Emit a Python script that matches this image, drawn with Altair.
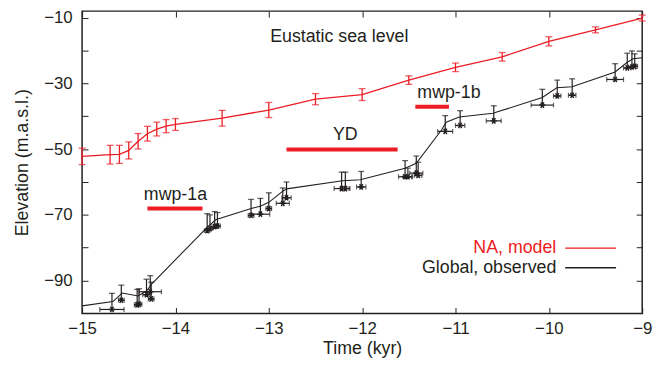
import altair as alt
import pandas as pd

RED = "#ec1c24"
BLACK = "#231f20"
FONT = "Liberation Sans"

# ---- NA, model (red) ----
red_x = [-15.0, -14.7, -14.6, -14.5, -14.4, -14.3, -14.2, -14.1, -14.0, -13.5,
         -13.0, -12.5, -12.0, -11.5, -11.0, -10.5, -10.0, -9.5, -9.0]
red_y = [-52.2, -51.7, -51.6, -50.4, -47.6, -45.3, -43.9, -43.0, -42.5, -40.6,
         -38.1, -34.8, -33.4, -29.0, -25.1, -21.9, -17.2, -13.7, -10.1]
red_err = [2.5, 2.85, 2.75, 2.6, 2.35, 2.25, 2.1, 2.0, 1.8, 2.4,
           2.3, 1.7, 1.8, 1.3, 1.3, 1.3, 1.4, 0.9, 0.9]

# ---- Global, observed (black) : individual dated samples ----
obs_x = [-14.68, -14.58, -14.41, -14.39, -14.31, -14.27, -14.26, -13.66, -13.63, -13.58,
         -13.55, -13.19, -13.09, -13.00, -12.85, -12.81, -12.22, -12.18, -12.01, -11.54,
         -11.51, -11.42, -11.40, -11.11, -10.95, -10.59, -10.07, -9.91, -9.75, -9.29,
         -9.16, -9.11, -9.08]
obs_y = [-98.8, -96.0, -97.4, -97.2, -94.3, -93.4, -95.6, -74.8, -74.2, -73.6,
         -73.4, -70.2, -69.8, -68.1, -66.5, -64.8, -62.0, -62.0, -61.5, -58.4,
         -58.4, -57.3, -58.0, -44.6, -42.8, -41.4, -36.6, -33.8, -33.6, -28.8,
         -25.3, -25.0, -24.8]
obs_xerr = [0.13, 0.03, 0.03, 0.03, 0.04, 0.12, 0.03, 0.03, 0.03, 0.03,
            0.03, 0.03, 0.10, 0.03, 0.07, 0.05, 0.08, 0.05, 0.05, 0.07,
            0.05, 0.07, 0.04, 0.08, 0.05, 0.08, 0.12, 0.04, 0.04, 0.09,
            0.04, 0.04, 0.03]
obs_top = [-93.9, -91.4, -92.7, -92.5, -89.6, -88.5, -90.5, -69.6, -70.0, -69.0,
           -69.3, -65.3, -65.0, -63.3, -61.8, -60.0, -57.0, -57.0, -56.8, -53.5,
           -55.8, -52.1, -54.0, -39.8, -38.3, -36.8, -31.8, -29.0, -28.6, -24.0,
           -20.8, -20.1, -21.0]

# ---- Global, observed (black) : curve ----
line_x = [-15.0, -14.67, -14.57, -14.40, -14.31, -14.25, -13.66, -13.57, -13.18, -13.09,
          -13.0, -12.85, -12.81, -12.21, -12.02, -11.54, -11.42, -11.15, -11.10, -10.96,
          -10.60, -10.07, -9.915, -9.75, -9.29, -9.17, -9.10, -9.0]
line_y = [-97.7, -96.4, -93.8, -94.7, -93.2, -90.9, -73.8, -71.5, -68.0, -67.4,
          -66.2, -62.8, -62.1, -59.6, -59.3, -55.8, -54.3, -44.2, -41.8, -40.2,
          -39.1, -34.3, -31.3, -31.0, -26.5, -23.8, -22.5, -22.2]

# ---- events ----
event_labels = ["mwp-1a", "YD", "mwp-1b"]
event_start = [-14.30, -12.81, -11.43]
event_end = [-13.71, -11.62, -11.07]
event_y = [-68.1, -50.1, -37.1]
event_label_x = [-14.0, -12.18, -11.07]
event_label_y = [-65.4, -47.1, -34.3]

panel_title = ["Eustatic sea level"]
panel_title_x = [-12.245]
panel_title_y = [-17.5]

legend_labels = ["NA, model", "Global, observed"]
legend_colors = [RED, BLACK]
legend_y = [-80.1, -86.1]
legend_text_x = [-9.92, -9.92]
legend_line_start = [-9.825, -9.825]
legend_line_end = [-9.28, -9.28]

x_ticks = [-15, -14, -13, -12, -11, -10, -9]
y_ticks = [-90, -80, -70, -60, -50, -40, -30, -20, -10]

red_df = pd.DataFrame({"x": red_x, "y": red_y,
                       "lo": [a - e for a, e in zip(red_y, red_err)],
                       "hi": [a + e for a, e in zip(red_y, red_err)]})
obs_df = pd.DataFrame({"x": obs_x, "y": obs_y, "top": obs_top,
                       "xlo": [a - e for a, e in zip(obs_x, obs_xerr)],
                       "xhi": [a + e for a, e in zip(obs_x, obs_xerr)]})
line_df = pd.DataFrame({"x": line_x, "y": line_y})
ev_df = pd.DataFrame({"label": event_labels, "x1": event_start, "x2": event_end,
                      "y": event_y, "lx": event_label_x, "ly": event_label_y})
title_df = pd.DataFrame({"t": panel_title, "x": panel_title_x, "y": panel_title_y})
leg_df = pd.DataFrame({"label": legend_labels, "color": legend_colors, "y": legend_y,
                       "tx": legend_text_x, "x1": legend_line_start, "x2": legend_line_end})

xs = alt.Scale(domain=[-15, -9], nice=False, zero=False)
ys = alt.Scale(domain=[-100, -8], nice=False, zero=False)

common_axis = dict(tickSize=6, offset=-6, domain=False, grid=False,
                   tickColor=BLACK, tickWidth=1, labelFlush=False)

ax_bottom = alt.Axis(orient="bottom", values=x_ticks, labelPadding=7,
                     labelExpr="datum.value < 0 ? '\u2212' + abs(datum.value) : datum.label",
                     labelFontSize=17, labelFont=FONT, labelColor=BLACK,
                     title="Time (kyr)", titleFont=FONT, titleFontSize=18,
                     titleFontWeight="normal", titleColor=BLACK, titlePadding=4,
                     **common_axis)
ax_left = alt.Axis(orient="left", values=y_ticks, labelPadding=10,
                   labelExpr="abs(datum.value) % 20 == 10 ? '\u2212' + abs(datum.value) : ''",
                   labelFontSize=17, labelFont=FONT, labelColor=BLACK,
                   title="Elevation (m.a.s.l.)", titleFont=FONT, titleFontSize=18,
                   titleFontWeight="normal", titleColor=BLACK, titlePadding=12,
                   **common_axis)
ax_top = alt.Axis(orient="top", values=x_ticks, labels=False, title=None, **common_axis)
ax_right = alt.Axis(orient="right", values=y_ticks, labels=False, title=None, **common_axis)


def X(f, axis=None):
    return alt.X(f, type="quantitative", scale=xs, axis=axis)


def Y(f, axis=None):
    return alt.Y(f, type="quantitative", scale=ys, axis=axis)


red_line = alt.Chart(red_df).mark_line(color=RED, strokeWidth=1.3).encode(
    x=X("x", ax_bottom), y=Y("y", ax_left))
red_bars = alt.Chart(red_df).mark_rule(color=RED, strokeWidth=1.3).encode(
    x=X("x", ax_top), y=Y("lo", ax_right), y2="hi")
red_cap_lo = alt.Chart(red_df).mark_tick(color=RED, orient="horizontal", size=7, thickness=1.3).encode(
    x=X("x"), y=Y("lo"))
red_cap_hi = alt.Chart(red_df).mark_tick(color=RED, orient="horizontal", size=7, thickness=1.3).encode(
    x=X("x"), y=Y("hi"))

blk_line = alt.Chart(line_df).mark_line(color=BLACK, strokeWidth=1.1).encode(
    x=X("x"), y=Y("y"))
obs_v = alt.Chart(obs_df).mark_rule(color=BLACK, strokeWidth=1.2).encode(
    x=X("x"), y=Y("y"), y2="top")
obs_vcap = alt.Chart(obs_df).mark_tick(color=BLACK, orient="horizontal", size=6, thickness=1.3).encode(
    x=X("x"), y=Y("top"))
obs_h = alt.Chart(obs_df).mark_rule(color=BLACK, strokeWidth=1.2).encode(
    x=X("xlo"), x2="xhi", y=Y("y"))
obs_hcap_lo = alt.Chart(obs_df).mark_tick(color=BLACK, orient="vertical", size=5, thickness=1.2).encode(
    x=X("xlo"), y=Y("y"))
obs_hcap_hi = alt.Chart(obs_df).mark_tick(color=BLACK, orient="vertical", size=5, thickness=1.2).encode(
    x=X("xhi"), y=Y("y"))
STAR = "M-1,0L1,0M-0.5,-0.87L0.5,0.87M-0.5,0.87L0.5,-0.87"
obs_pts = alt.Chart(obs_df).mark_point(shape=STAR, filled=False, size=40, strokeWidth=1.5,
                                       color=BLACK, opacity=1).encode(x=X("x"), y=Y("y"))

ev_bars = alt.Chart(ev_df).mark_rule(color=RED, strokeWidth=4).encode(
    x=X("x1"), x2="x2", y=Y("y"))
ev_text = alt.Chart(ev_df).mark_text(font=FONT, fontSize=18, color=BLACK,
                                     baseline="alphabetic", align="center").encode(
    x=X("lx"), y=Y("ly"), text="label:N")
title_text = alt.Chart(title_df).mark_text(font=FONT, fontSize=18, color=BLACK,
                                           baseline="alphabetic", align="center").encode(
    x=X("x"), y=Y("y"), text="t:N")
leg_text = alt.Chart(leg_df).mark_text(font=FONT, fontSize=18, baseline="middle", align="right").encode(
    x=X("tx"), y=Y("y"), text="label:N", color=alt.Color("color:N", scale=None))
leg_lines = alt.Chart(leg_df).mark_rule(strokeWidth=1.3).encode(
    x=X("x1"), x2="x2", y=Y("y"), color=alt.Color("color:N", scale=None))

chart = alt.layer(
    red_line, red_bars, red_cap_lo, red_cap_hi,
    blk_line, obs_v, obs_vcap, obs_h, obs_hcap_lo, obs_hcap_hi, obs_pts,
    ev_bars, ev_text, title_text, leg_text, leg_lines,
).resolve_axis(x="independent", y="independent").properties(
    width=567, height=306,
    padding={"left": 75, "top": 1, "right": 16, "bottom": 45},
    autosize=alt.AutoSizeParams(type="none"),
).configure_view(stroke=BLACK, strokeWidth=1.5)

chart.save("out.html", embed_options={"renderer": "svg", "actions": False})
